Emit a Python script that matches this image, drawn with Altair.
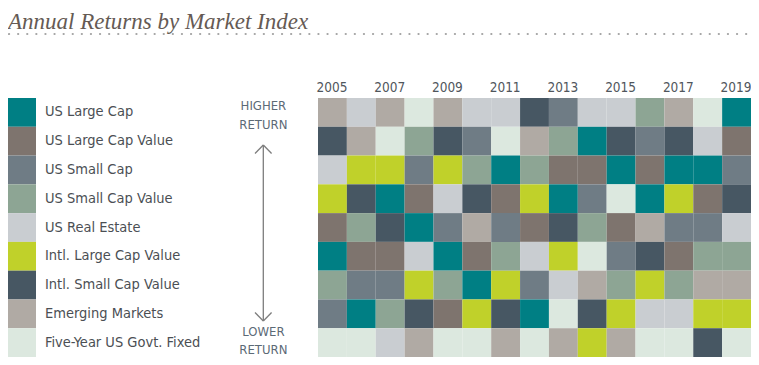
import altair as alt
import pandas as pd

# ---- data -------------------------------------------------------------
indices = ["US Large Cap", "US Large Cap Value", "US Small Cap", "US Small Cap Value",
           "US Real Estate", "Intl. Large Cap Value", "Intl. Small Cap Value",
           "Emerging Markets", "Five-Year US Govt. Fixed"]
codes = ["LC", "LCV", "SC", "SCV", "RE", "ILV", "ISV", "EM", "FI"]
colors = ["#007f84", "#7e746e", "#6f7c85", "#8da594", "#c9cdd1",
          "#c0d12a", "#475763", "#b0aaa4", "#dce8df"]
years = list(range(2005, 2020))
year_labels = ["2005", "2007", "2009", "2011", "2013", "2015", "2017", "2019"]

# ranking of each year, highest return first
ranks_by_year = [
    ["EM", "ISV", "RE", "ILV", "LCV", "LC", "SCV", "SC", "FI"],   # 2005
    ["RE", "EM", "ILV", "ISV", "SCV", "LCV", "SC", "LC", "FI"],   # 2006
    ["EM", "FI", "ILV", "LC", "ISV", "LCV", "SC", "SCV", "RE"],   # 2007
    ["FI", "SCV", "SC", "LCV", "LC", "RE", "ILV", "ISV", "EM"],   # 2008
    ["EM", "ISV", "ILV", "RE", "SC", "LC", "SCV", "LCV", "FI"],   # 2009
    ["RE", "SC", "SCV", "ISV", "EM", "LCV", "LC", "ILV", "FI"],   # 2010
    ["RE", "FI", "LC", "LCV", "SC", "SCV", "ILV", "ISV", "EM"],   # 2011
    ["ISV", "EM", "SCV", "ILV", "LCV", "RE", "SC", "LC", "FI"],   # 2012
    ["SC", "SCV", "LCV", "LC", "ISV", "ILV", "RE", "FI", "EM"],   # 2013
    ["RE", "LC", "LCV", "SC", "SCV", "FI", "EM", "ISV", "ILV"],   # 2014
    ["RE", "ISV", "LC", "FI", "LCV", "SC", "SCV", "ILV", "EM"],   # 2015
    ["SCV", "SC", "LCV", "LC", "EM", "ISV", "ILV", "RE", "FI"],   # 2016
    ["EM", "ISV", "LC", "ILV", "SC", "LCV", "SCV", "RE", "FI"],   # 2017
    ["FI", "RE", "LC", "LCV", "SC", "SCV", "EM", "ILV", "ISV"],   # 2018
    ["LC", "LCV", "SC", "ISV", "RE", "SCV", "EM", "ILV", "FI"],   # 2019
]

name_of = dict(zip(codes, indices))
rows = []
for yr, order in zip(years, ranks_by_year):
    for r, c in enumerate(order, start=1):
        rows.append({"year": yr, "rank": r, "index": name_of[c]})
cells = pd.DataFrame(rows)
legend_df = pd.DataFrame({"index": indices, "rank": list(range(1, 10))})
years_df = pd.DataFrame({"year": [int(y) for y in year_labels], "label": year_labels})

# ---- scales ------------------------------------------------------------
W, H = 743, 349
xs = alt.Scale(domain=years, range=[310, 743], paddingInner=0, paddingOuter=0)
ys = alt.Scale(domain=list(range(1, 10)), range=[90, 349], paddingInner=0, paddingOuter=0)
cs = alt.Scale(domain=indices, range=colors)

heat = alt.Chart(cells).mark_rect().encode(
    x=alt.X("year:O", scale=xs, axis=None),
    y=alt.Y("rank:O", scale=ys, axis=None),
    color=alt.Color("index:N", scale=cs, legend=None),
)

year_text = alt.Chart(years_df).mark_text(
    font="DejaVu Sans Condensed", fontSize=13.5, color="#50565c",
    baseline="alphabetic", dx=-0.5
).encode(
    x=alt.X("year:O", scale=xs, axis=None),
    y=alt.value(84),
    text="label:N",
)

leg_sw = alt.Chart(legend_df).mark_rect().encode(
    x=alt.value(0), x2=alt.value(28),
    y=alt.Y("rank:O", scale=ys, axis=None),
    color=alt.Color("index:N", scale=cs, legend=None),
)
leg_txt = alt.Chart(legend_df).mark_text(
    font="DejaVu Sans Condensed", fontSize=14.5,
    color="#4b4f54", align="left", baseline="middle"
).encode(
    x=alt.value(37),
    y=alt.Y("rank:O", scale=ys, axis=None),
    text="index:N",
)

deco = pd.DataFrame({"k": [0]})
title = alt.Chart(deco).mark_text(
    text="Annual Returns by Market Index", font="Liberation Serif", fontStyle="italic",
    fontSize=23, color="#655a54", align="left", baseline="alphabetic"
).encode(x=alt.value(0), y=alt.value(20.5))

dots = alt.Chart(deco).mark_rule(
    color="#a3a3a3", strokeWidth=2.2, strokeDash=[0.1, 9], strokeCap="round"
).encode(x=alt.value(1), x2=alt.value(742), y=alt.value(26))

ann_font = "DejaVu Sans Condensed"
def label(txt, yy):
    return alt.Chart(deco).mark_text(
        text=txt, font=ann_font, fontSize=13, color="#5c6a76",
        align="center", baseline="middle"
    ).encode(x=alt.value(255.4), y=alt.value(yy))

def seg(x1, y1, x2, y2):
    return alt.Chart(deco).mark_rule(color="#7d7d7d", strokeWidth=1.3).encode(
        x=alt.value(x1), y=alt.value(y1), x2=alt.value(x2), y2=alt.value(y2))

top, bot = 137, 313
arrow = (seg(255.3, top, 255.3, bot)
         + seg(255.3, top, 247, top + 8.5) + seg(255.3, top, 263.6, top + 8.5)
         + seg(255.3, bot, 247, bot - 8.5) + seg(255.3, bot, 263.6, bot - 8.5))

chart = alt.layer(
    heat, year_text, leg_sw, leg_txt, title, dots,
    label("HIGHER", 97.5), label("RETURN", 116.5),
    label("LOWER", 323.5), label("RETURN", 341.5),
    arrow,
).properties(
    width=W, height=H, autosize=alt.AutoSizeParams(type="none"), padding=0
).configure_view(stroke=None)

chart.save("out.html", embed_options={"renderer": "svg", "actions": False})
